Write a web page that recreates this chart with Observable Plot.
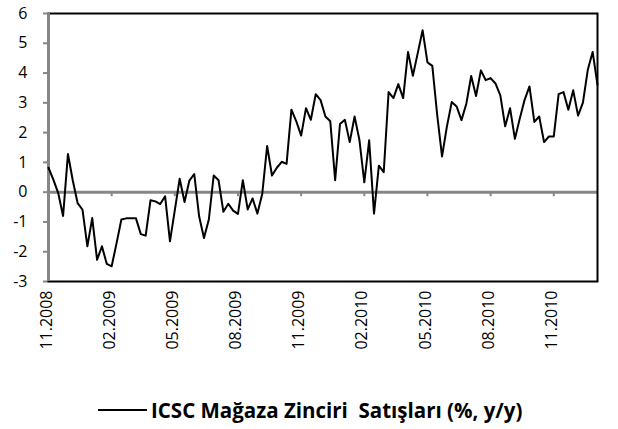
<!DOCTYPE html>
<html><head><meta charset="utf-8">
<script src="https://cdn.jsdelivr.net/npm/d3@7"></script>
<script src="https://cdn.jsdelivr.net/npm/@observablehq/plot@0.6"></script>
<style>
body{margin:0;background:#fff;}
#chart{position:absolute;left:0;top:0;}
#legend{display:flex;align-items:center;position:absolute;left:98px;top:396px;height:28px;font:bold 20.5px "Open Sans";white-space:pre;color:#000}
#legend .sw{display:inline-block;width:49px;border-top:2px solid #000;margin-right:4px}
</style></head><body>
<div id="chart"></div>
<div id="legend"><span class="sw"></span><span id="legtext"></span></div>
<script>
// Weekly ICSC chain store sales, % y/y
const values = [
 0.82,0.42,-0.03,-0.80,1.28,0.39,-0.37,-0.59,-1.82,-0.87,
 -2.27,-1.82,-2.41,-2.49,-1.72,-0.92,-0.88,-0.88,-0.88,-1.41,
 -1.46,-0.27,-0.31,-0.40,-0.14,-1.65,-0.60,0.45,-0.33,0.39,
 0.61,-0.81,-1.54,-0.92,0.56,0.40,-0.66,-0.39,-0.62,-0.73,
 0.40,-0.58,-0.21,-0.72,-0.05,1.55,0.56,0.82,1.02,0.95,
 2.77,2.38,1.90,2.82,2.43,3.29,3.09,2.54,2.38,0.40,
 2.29,2.43,1.68,2.54,1.75,0.33,1.74,-0.72,0.89,0.67,
 3.36,3.16,3.63,3.16,4.71,3.91,4.67,5.44,4.36,4.24,
 2.60,1.20,2.20,3.03,2.88,2.42,2.97,3.90,3.23,4.09,
 3.76,3.83,3.65,3.25,2.21,2.82,1.79,2.47,3.10,3.55,
 2.36,2.54,1.68,1.87,1.87,3.29,3.36,2.77,3.42,2.57,
 3.01,4.11,4.71,3.60
];
const xLabels = ["11.2008","02.2009","05.2009","08.2009","11.2009","02.2010","05.2010","08.2010","11.2010"];
const labelStep = 13; // weeks between category labels
const yTicks = [-3,-2,-1,0,1,2,3,4,5,6];
const seriesName = "ICSC Mağaza Zinciri  Satışları (%, y/y)";

const tickIdx = xLabels.map((_, i) => i * labelStep);

const plot = Plot.plot({
  width: 618, height: 360,
  marginLeft: 48, marginRight: 21, marginTop: 13, marginBottom: 79,
  style: {fontFamily: "Open Sans", fontSize: "16px", color: "#000", background: "#fff"},
  x: {domain: [0, values.length - 1], axis: null},
  y: {domain: [-3, 6], axis: null},
  marks: [
    Plot.ruleY([0], {stroke: "#868686", strokeWidth: 3}),
    Plot.ruleX(tickIdx, {x: d => d, y1: 0, y2: -0.15, stroke: "#868686", strokeWidth: 2}),
    Plot.axisY({ticks: yTicks, tickSize: 5, tickPadding: 16, stroke: "#868686", strokeWidth: 2, fontSize: 16, tickFormat: d => String(d)}),
    Plot.axisX({ticks: tickIdx, tickFormat: d => xLabels[d / labelStep], tickRotate: -90, tickSize: 0, tickPadding: 9, fontSize: 16, dx: -2}),
    Plot.frame({stroke: "#000", strokeWidth: 2}),
    Plot.ruleX([0], {stroke: "#868686", strokeWidth: 3}),
    Plot.lineY(values, {stroke: "#000", strokeWidth: 2})
  ]
});
document.getElementById("chart").append(plot);
document.getElementById("legtext").textContent = seriesName;
</script>
</body></html>
